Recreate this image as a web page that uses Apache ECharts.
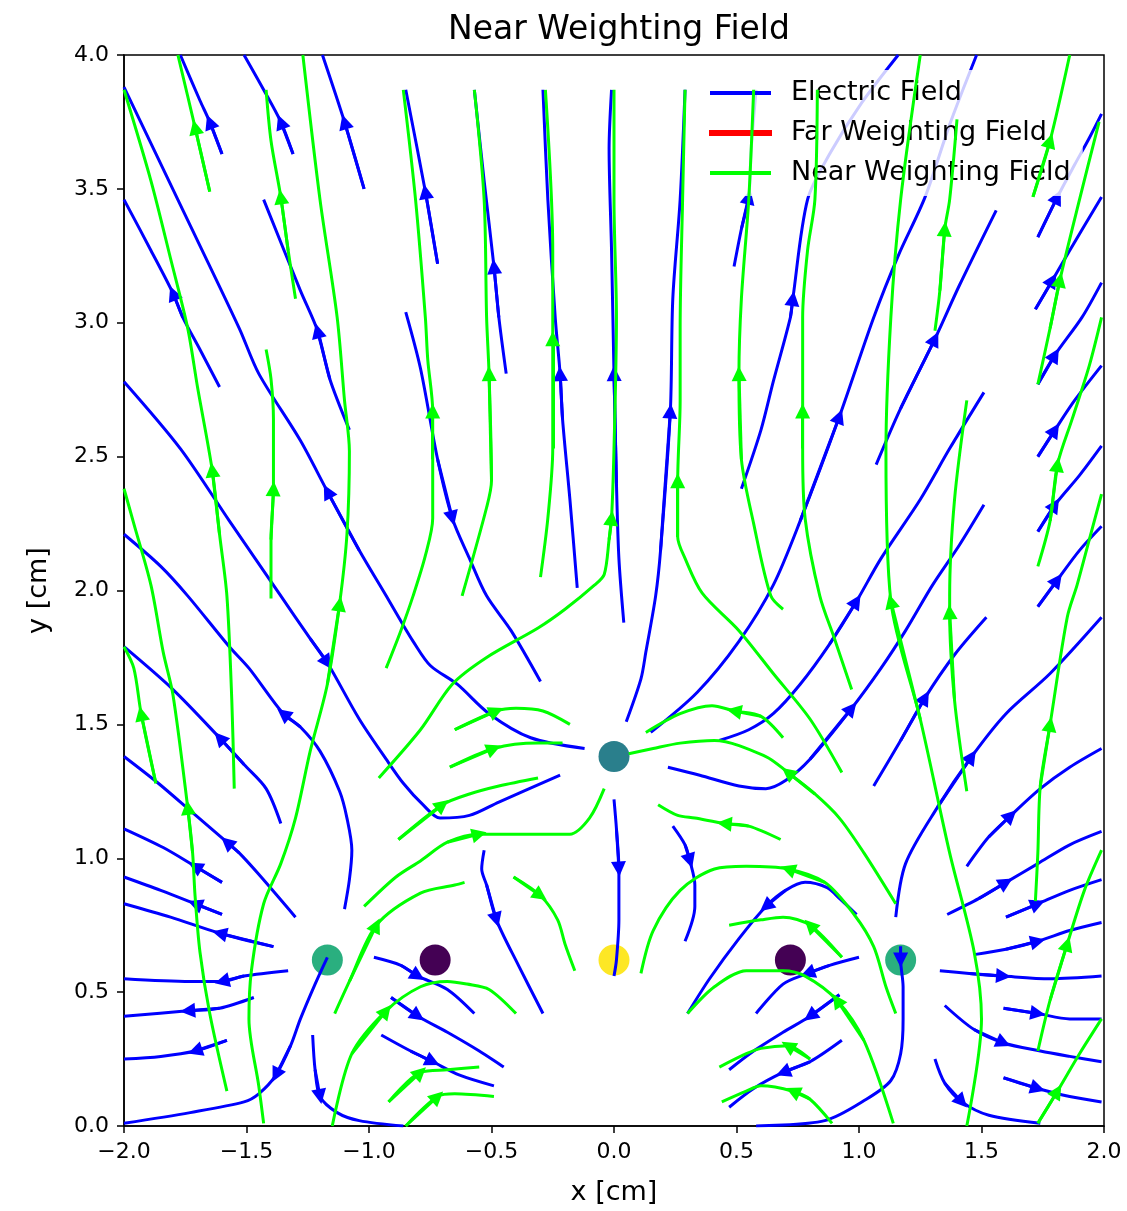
<!DOCTYPE html>
<html><head><meta charset="utf-8">
<script src="https://cdn.jsdelivr.net/npm/echarts@6/dist/echarts.min.js"></script>
<style>html,body{margin:0;padding:0;background:#fff}#chart{width:1127px;height:1211px}</style>
</head><body><div id="chart"></div>
<script>
// ---------- DATA (data units: cm) ----------
const xTickValues = [-2.0, -1.5, -1.0, -0.5, 0.0, 0.5, 1.0, 1.5, 2.0];
const yTickValues = [0.0, 0.5, 1.0, 1.5, 2.0, 2.5, 3.0, 3.5, 4.0];

// electrode markers
const markerX = [0.0, -1.17, 1.17, -0.73, 0.72, 0.0];
const markerY = [1.38, 0.62, 0.62, 0.62, 0.62, 0.62];
const markerLevel = ['mid', 'side', 'side', 'low', 'low', 'high'];

// electric field streamlines (flow order)
const electricLines = [
 [[-0.12,1.41],[-0.34,1.45],[-0.51,1.54],[-0.64,1.65],[-0.75,1.72],[-0.82,1.81],[-0.86,1.87],[-0.93,1.98],[-1.04,2.15],[-1.17,2.37],[-1.28,2.56],[-1.45,2.81],[-1.53,2.98],[-1.77,3.44],[-2.0,3.88]],
 [[-1.61,2.76],[-1.69,2.90],[-1.76,3.02],[-1.80,3.11],[-1.89,3.27],[-2.0,3.46]],
 [[-1.60,3.63],[-1.65,3.75],[-1.69,3.83],[-1.77,4.0]],
 [[-1.31,3.63],[-1.36,3.75],[-1.43,3.87],[-1.51,4.0]],
 [[-1.02,3.50],[-1.10,3.75],[-1.19,4.0]],
 [[-0.72,3.22],[-0.77,3.49],[-0.85,3.87]],
 [[-0.44,2.81],[-0.47,3.02],[-0.49,3.21],[-0.53,3.53],[-0.57,3.87]],
 [[-1.08,2.60],[-1.16,2.79],[-1.21,2.97],[-1.28,3.12],[-1.43,3.46]],
 [[-0.85,3.04],[-0.79,2.83],[-0.72,2.49],[-0.66,2.27],[-0.59,2.12],[-0.52,1.98],[-0.42,1.85],[-0.30,1.66]],
 [[-0.15,2.01],[-0.18,2.34],[-0.21,2.64],[-0.22,2.81],[-0.24,3.02],[-0.27,3.46],[-0.29,3.87]],
 [[0.04,1.88],[0.02,2.12],[0.01,2.40],[0.0,2.81],[-0.01,3.27],[-0.02,3.65],[-0.01,3.87]],
 [[0.05,1.51],[0.11,1.67],[0.13,1.77],[0.17,1.98],[0.19,2.15],[0.23,2.67],[0.24,3.09],[0.27,3.46],[0.29,3.87]],
 [[0.49,3.21],[0.52,3.35],[0.55,3.47],[0.56,3.65],[0.58,3.87]],
 [[0.52,2.38],[0.60,2.60],[0.65,2.78],[0.72,3.02],[0.73,3.09],[0.79,3.46],[0.88,3.63],[1.01,3.82],[1.16,4.0]],
 [[1.07,2.47],[1.17,2.68],[1.31,2.94],[1.41,3.14],[1.56,3.42]],
 [[0.15,1.47],[0.34,1.62],[0.51,1.81],[0.65,2.02],[0.76,2.26],[0.92,2.65],[1.06,3.02],[1.16,3.25],[1.27,3.47],[1.37,3.74],[1.48,4.0]],
 [[1.73,3.32],[1.81,3.47],[1.88,3.59],[1.94,3.69],[1.99,3.78]],
 [[1.72,3.05],[1.79,3.16],[1.86,3.27],[1.99,3.47]],
 [[1.73,2.77],[1.80,2.88],[1.91,3.02],[1.99,3.15]],
 [[1.73,2.50],[1.80,2.60],[1.88,2.71],[1.99,2.84]],
 [[1.73,2.22],[1.80,2.32],[1.90,2.43],[1.99,2.54]],
 [[1.73,1.94],[1.81,2.04],[1.90,2.15],[1.99,2.24]],
 [[1.15,0.78],[1.19,0.98],[1.32,1.19],[1.46,1.38],[1.60,1.54],[1.78,1.69],[1.99,1.90]],
 [[1.06,1.27],[1.17,1.44],[1.27,1.60],[1.39,1.76],[1.52,1.90]],
 [[0.22,1.34],[0.35,1.31],[0.51,1.27],[0.62,1.26],[0.70,1.29],[0.80,1.37],[0.97,1.56],[1.09,1.71],[1.19,1.85],[1.30,2.02],[1.41,2.17],[1.51,2.32]],
 [[0.43,1.44],[0.55,1.48],[0.65,1.54],[0.76,1.65],[0.88,1.80],[0.99,1.96],[1.09,2.12],[1.25,2.34],[1.37,2.53],[1.51,2.74]],
 [[1.44,0.97],[1.53,1.08],[1.62,1.16],[1.74,1.26],[1.86,1.34],[1.99,1.41]],
 [[1.36,0.79],[1.49,0.85],[1.60,0.91],[1.73,0.98],[1.86,1.05],[1.99,1.10]],
 [[1.60,0.78],[1.73,0.83],[1.86,0.88],[1.99,0.92]],
 [[1.47,0.64],[1.60,0.66],[1.73,0.69],[1.86,0.73],[1.99,0.76]],
 [[1.33,0.58],[1.45,0.57],[1.59,0.56],[1.78,0.55],[1.99,0.56]],
 [[1.59,0.44],[1.73,0.42],[1.86,0.40],[1.99,0.40]],
 [[1.35,0.45],[1.47,0.36],[1.59,0.31],[1.74,0.28],[1.86,0.26],[1.99,0.24]],
 [[1.59,0.18],[1.73,0.14],[1.86,0.11],[1.99,0.09]],
 [[1.31,0.25],[1.35,0.16],[1.42,0.09],[1.53,0.04],[1.74,0.01]],
 [[1.17,0.67],[1.17,0.62],[1.18,0.52],[1.18,0.40],[1.17,0.27],[1.13,0.17],[1.03,0.10],[0.86,0.02],[0.58,0.0]],
 [[0.99,0.79],[0.92,0.85],[0.87,0.89],[0.78,0.91],[0.70,0.88],[0.62,0.82],[0.51,0.70],[0.39,0.55],[0.30,0.42]],
 [[1.00,0.63],[0.88,0.60],[0.79,0.57],[0.69,0.53],[0.58,0.42]],
 [[0.92,0.49],[0.80,0.41],[0.69,0.35],[0.57,0.28],[0.47,0.21]],
 [[0.93,0.32],[0.80,0.24],[0.69,0.20],[0.57,0.14],[0.47,0.07]],
 [[-1.10,0.81],[-1.08,0.92],[-1.07,1.03],[-1.09,1.15],[-1.12,1.25],[-1.20,1.40],[-1.28,1.49],[-1.35,1.54],[-1.49,1.71],[-1.57,1.79],[-1.74,1.98],[-1.85,2.09],[-2.0,2.21]],
 [[-2.0,2.78],[-1.77,2.53],[-1.57,2.26],[-1.36,1.98],[-1.24,1.82],[-1.17,1.73],[-1.04,1.52],[-0.93,1.37],[-0.86,1.28],[-0.78,1.20],[-0.71,1.15],[-0.59,1.16],[-0.47,1.21],[-0.22,1.31]],
 [[-1.36,1.13],[-1.42,1.26],[-1.51,1.35],[-1.61,1.45],[-1.80,1.63],[-2.0,1.79]],
 [[-1.30,0.78],[-1.45,0.94],[-1.53,1.02],[-1.58,1.06],[-1.72,1.17],[-1.86,1.28],[-2.0,1.38]],
 [[-1.60,0.91],[-1.71,0.97],[-1.84,1.04],[-2.0,1.11]],
 [[-1.60,0.79],[-1.71,0.83],[-1.85,0.88],[-2.0,0.93]],
 [[-1.39,0.67],[-1.61,0.72],[-1.81,0.78],[-2.0,0.83]],
 [[-1.33,0.58],[-1.51,0.56],[-1.60,0.54],[-1.73,0.54],[-2.0,0.55]],
 [[-1.47,0.48],[-1.61,0.44],[-1.74,0.43],[-2.0,0.41]],
 [[-1.58,0.32],[-1.71,0.28],[-1.85,0.26],[-2.0,0.25]],
 [[-1.17,0.63],[-1.22,0.53],[-1.28,0.40],[-1.32,0.30],[-1.38,0.19],[-1.45,0.12],[-1.51,0.09],[-1.73,0.05],[-2.0,0.01]],
 [[-1.23,0.34],[-1.22,0.21],[-1.20,0.11],[-1.13,0.05],[-1.04,0.02],[-0.86,0.0]],
 [[-0.98,0.63],[-0.87,0.60],[-0.80,0.56],[-0.68,0.51],[-0.57,0.42]],
 [[-0.91,0.48],[-0.80,0.41],[-0.68,0.35],[-0.55,0.28],[-0.45,0.22]],
 [[-0.95,0.34],[-0.83,0.28],[-0.74,0.24],[-0.63,0.19],[-0.49,0.15]],
 [[-0.53,1.03],[-0.54,0.96],[-0.52,0.90],[-0.48,0.77],[-0.39,0.60],[-0.29,0.42]],
 [[0.0,1.22],[0.01,1.11],[0.02,0.96],[0.02,0.77],[0.01,0.62],[0.0,0.56]],
 [[0.24,1.12],[0.29,1.05],[0.31,0.99],[0.33,0.90],[0.33,0.82],[0.29,0.69]]
];
// index of the point carrying the arrow head on each electric line
const electricArrowAt = [9,3,1,1,1,1,2,2,3,3,3,5,2,4,2,5,1,1,1,1,1,1,3,2,6,5,2,2,1,2,2,1,2,1,2,1,5,2,1,2,7,5,3,3,1,1,1,2,2,1,4,2,2,1,2,3,2,2];

// near weighting field streamlines (flow order)
const nearLines = [
 [[-1.55,1.26],[-1.56,1.59],[-1.58,1.98],[-1.61,2.21],[-1.64,2.45],[-1.70,2.76],[-1.74,2.98],[-1.81,3.24],[-1.89,3.53],[-2.0,3.87]],
 [[-1.65,3.49],[-1.71,3.73],[-1.78,4.0]],
 [[-1.87,1.28],[-1.93,1.54],[-1.96,1.71],[-2.0,1.79]],
 [[-1.58,0.13],[-1.65,0.42],[-1.69,0.65],[-1.71,0.86],[-1.72,1.02],[-1.74,1.19],[-1.80,1.61],[-1.84,1.77],[-1.89,2.02],[-1.96,2.25],[-2.0,2.38]],
 [[-1.40,1.97],[-1.40,2.19],[-1.39,2.38],[-1.39,2.64],[-1.40,2.79],[-1.42,2.90]],
 [[-1.43,0.01],[-1.45,0.15],[-1.49,0.40],[-1.48,0.58],[-1.43,0.83],[-1.36,0.98],[-1.30,1.15],[-1.24,1.40],[-1.17,1.65],[-1.12,1.95],[-1.09,2.21],[-1.08,2.52],[-1.10,2.71],[-1.13,3.02],[-1.20,3.46],[-1.27,4.0]],
 [[-0.93,1.71],[-0.87,1.85],[-0.82,1.98],[-0.77,2.13],[-0.74,2.27],[-0.74,2.49],[-0.74,2.67],[-0.76,2.86],[-0.77,3.02],[-0.81,3.46],[-0.86,3.87]],
 [[-1.30,3.09],[-1.33,3.27],[-1.36,3.47],[-1.40,3.68],[-1.42,3.87]],
 [[-0.96,1.30],[-0.79,1.48],[-0.66,1.65],[-0.52,1.75],[-0.31,1.86],[-0.20,1.93],[-0.08,2.02],[-0.04,2.06],[-0.02,2.19],[-0.01,2.27],[0.0,2.53],[0.01,3.02],[0.0,3.46],[0.0,3.87]],
 [[-0.62,1.98],[-0.52,2.31],[-0.50,2.41],[-0.51,2.81],[-0.52,3.02],[-0.53,3.46],[-0.57,3.87]],
 [[-0.30,2.05],[-0.27,2.27],[-0.25,2.53],[-0.25,2.94],[-0.25,3.27],[-0.28,3.87]],
 [[0.93,1.32],[0.80,1.52],[0.65,1.69],[0.51,1.85],[0.36,1.99],[0.29,2.12],[0.26,2.20],[0.26,2.41],[0.27,2.71],[0.27,2.98],[0.28,3.46],[0.29,3.87]],
 [[0.69,1.93],[0.64,1.98],[0.57,2.25],[0.52,2.49],[0.51,2.81],[0.52,3.09],[0.55,3.46],[0.57,3.87]],
 [[0.97,1.63],[0.90,1.82],[0.84,1.98],[0.78,2.27],[0.77,2.53],[0.77,2.67],[0.77,3.02],[0.79,3.27],[0.82,3.46],[0.83,3.87]],
 [[1.44,0.0],[1.50,0.40],[1.47,0.65],[1.37,1.02],[1.25,1.52],[1.13,1.96],[1.11,2.52],[1.13,3.02],[1.17,3.46],[1.25,4.0]],
 [[1.44,1.25],[1.39,1.59],[1.37,1.92],[1.37,1.98],[1.39,2.34],[1.44,2.71]],
 [[1.31,2.97],[1.33,3.12],[1.35,3.35],[1.37,3.46],[1.40,3.76]],
 [[1.73,2.77],[1.78,2.98],[1.82,3.16],[1.90,3.46],[1.98,3.75]],
 [[1.71,3.47],[1.78,3.68],[1.86,4.0]],
 [[1.73,2.09],[1.78,2.26],[1.81,2.47],[1.87,2.64],[1.94,2.84],[1.99,3.02]],
 [[1.72,0.84],[1.73,1.02],[1.74,1.27],[1.78,1.50],[1.85,1.90],[1.89,2.02],[1.94,2.19],[1.99,2.36]],
 [[1.73,0.28],[1.78,0.47],[1.85,0.68],[1.92,0.88],[1.99,1.03]],
 [[1.73,0.01],[1.81,0.13],[1.90,0.27],[1.99,0.40]],
 [[1.15,0.83],[1.02,1.02],[0.92,1.15],[0.82,1.24],[0.71,1.32],[0.62,1.38],[0.41,1.44],[0.27,1.43],[0.16,1.41],[0.06,1.39]],
 [[0.69,1.45],[0.60,1.53],[0.49,1.55],[0.40,1.57],[0.27,1.54],[0.13,1.47]],
 [[0.68,1.07],[0.55,1.12],[0.45,1.13],[0.33,1.15],[0.26,1.16],[0.18,1.20]],
 [[1.15,0.42],[1.11,0.52],[1.06,0.67],[0.98,0.79],[0.86,0.91],[0.71,0.96],[0.54,0.97],[0.41,0.96],[0.27,0.88],[0.16,0.73],[0.11,0.57]],
 [[0.93,0.63],[0.80,0.75],[0.69,0.78],[0.60,0.77],[0.47,0.75]],
 [[1.14,0.01],[1.02,0.32],[0.91,0.47],[0.78,0.56],[0.69,0.58],[0.54,0.58],[0.41,0.52],[0.30,0.42]],
 [[0.80,0.25],[0.71,0.30],[0.60,0.29],[0.54,0.27],[0.43,0.22]],
 [[0.89,0.01],[0.80,0.10],[0.73,0.13],[0.60,0.15],[0.54,0.13],[0.44,0.09]],
 [[-1.14,0.42],[-1.08,0.54],[-0.97,0.75],[-0.79,0.87],[-0.65,0.90],[-0.61,0.91]],
 [[-0.41,0.93],[-0.30,0.86],[-0.23,0.77],[-0.20,0.68],[-0.16,0.58]],
 [[-1.15,0.0],[-1.07,0.27],[-0.93,0.43],[-0.79,0.52],[-0.68,0.54],[-0.60,0.53],[-0.51,0.51],[-0.40,0.42]],
 [[-0.92,0.09],[-0.79,0.20],[-0.68,0.21],[-0.55,0.22]],
 [[-0.85,0.0],[-0.72,0.11],[-0.65,0.12],[-0.49,0.11]],
 [[-1.02,0.82],[-0.89,0.93],[-0.79,0.99],[-0.68,1.06],[-0.55,1.09],[-0.39,1.09],[-0.18,1.09],[-0.10,1.15],[-0.04,1.26]],
 [[-0.88,1.07],[-0.70,1.20],[-0.59,1.24],[-0.47,1.27],[-0.31,1.30]],
 [[-0.67,1.34],[-0.49,1.41],[-0.31,1.43],[-0.21,1.43]],
 [[-0.65,1.48],[-0.48,1.55],[-0.40,1.56],[-0.29,1.55],[-0.18,1.50]]
];
const nearArrowAt = [4,1,1,5,2,9,6,2,9,3,3,7,4,5,5,2,2,2,1,2,3,2,1,4,2,2,5,1,2,1,2,2,1,2,1,1,4,1,1,1];

// far weighting field: no streamlines visible in the reference
const farLines = [];

// ---------- STYLE ----------
const COLORS = { electric: '#0000ff', far: '#ff0000', near: '#00ff00' };
const LEVEL_COLORS = { low: '#440154', mid: '#2a7f8c', side: '#2aaf7f', high: '#fde725' };
const FONT = 'DejaVu Sans';
const LW = 3;

function streamSeries(name, lines, arrowAt, color, z) {
  const out = lines.map(c => ({
    type: 'line', name, data: c, smooth: 0.3, showSymbol: false, symbol: 'none', silent: true, z,
    color, lineStyle: { color, width: LW, opacity: 1, cap: 'butt', join: 'round' },
    emphasis: { disabled: true }, clip: true
  }));
  out.push({ type: 'lines', name, coordinateSystem: 'cartesian2d', polyline: false, silent: true, z: z + 1,
      color, symbol: ['none', 'triangle'], symbolSize: 15,
      lineStyle: { color, width: LW, opacity: 1, curveness: 0 },
      data: lines.map((c, i) => ({ coords: [c[arrowAt[i] - 1], c[arrowAt[i]]] })) });
  return out;
}

const fmt = v => (v < 0 ? '\u2212' : '') + Math.abs(v).toFixed(1);

const chart = echarts.init(document.getElementById('chart'), null, { renderer: 'canvas' });
chart.setOption({
  animation: false,
  backgroundColor: '#ffffff',
  textStyle: { fontFamily: FONT },
  title: { text: 'Near Weighting Field', left: 614, top: 9, textAlign: 'center',
    textStyle: { fontFamily: FONT, fontSize: 33, fontWeight: 'normal', color: '#000' } },
  legend: {
    left: 700, top: 70, orient: 'vertical', padding: [8, 12, 8, 9],
    backgroundColor: 'rgba(255,255,255,0.8)', borderRadius: 4,
    itemWidth: 61, itemHeight: 4, itemGap: 10,
    textStyle: { fontFamily: FONT, fontSize: 27, color: '#000', lineHeight: 30, padding: [0, 0, 0, 15] },
    data: [
      { name: 'Electric Field', icon: 'rect', itemStyle: { color: COLORS.electric } },
      { name: 'Far Weighting Field', icon: 'rect', itemStyle: { color: COLORS.far } },
      { name: 'Near Weighting Field', icon: 'rect', itemStyle: { color: COLORS.near } }
    ]
  },
  grid: { left: 124, right: 23, top: 55, bottom: 84, show: true, borderColor: '#000', borderWidth: 1.5, backgroundColor: 'transparent' },
  xAxis: {
    type: 'value', min: xTickValues[0], max: xTickValues[xTickValues.length - 1], interval: 0.5,
    name: 'x [cm]', nameLocation: 'middle', nameGap: 53,
    nameTextStyle: { fontFamily: FONT, fontSize: 27, color: '#000' },
    axisLine: { show: true, onZero: false, lineStyle: { color: '#000', width: 1.5 } },
    axisTick: { show: true, inside: false, length: 7, lineStyle: { color: '#000', width: 1.5 } },
    axisLabel: { margin: 15, fontFamily: FONT, fontSize: 22, color: '#000', formatter: fmt },
    splitLine: { show: false }
  },
  yAxis: {
    type: 'value', min: yTickValues[0], max: yTickValues[yTickValues.length - 1], interval: 0.5,
    name: 'y [cm]', nameLocation: 'middle', nameGap: 72, nameRotate: 90,
    nameTextStyle: { fontFamily: FONT, fontSize: 27, color: '#000' },
    axisLine: { show: true, onZero: false, lineStyle: { color: '#000', width: 1.5 } },
    axisTick: { show: true, inside: false, length: 7, lineStyle: { color: '#000', width: 1.5 } },
    axisLabel: { margin: 15, fontFamily: FONT, fontSize: 22, color: '#000', formatter: fmt },
    splitLine: { show: false }
  },
  series: [
    { type: 'scatter', name: 'electrodes', z: 1, symbol: 'circle', symbolSize: 31, silent: true,
      data: markerX.map((x, i) => ({ value: [x, markerY[i]], itemStyle: { color: LEVEL_COLORS[markerLevel[i]], opacity: 1 } })) },
    ...streamSeries('Electric Field', electricLines, electricArrowAt, COLORS.electric, 2),
    { type: 'lines', name: 'Far Weighting Field', coordinateSystem: 'cartesian2d', polyline: true, color: COLORS.far,
      lineStyle: { color: COLORS.far, width: LW }, data: farLines.map(c => ({ coords: c })) },
    ...streamSeries('Near Weighting Field', nearLines, nearArrowAt, COLORS.near, 4)
  ]
});
</script></body></html>
